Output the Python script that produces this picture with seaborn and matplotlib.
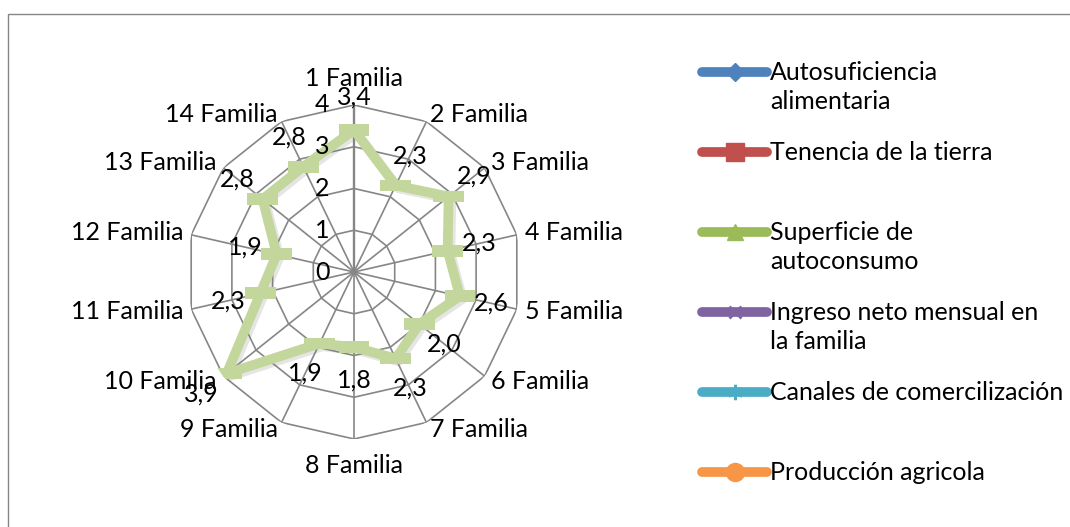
import numpy as np
import matplotlib
matplotlib.use("Agg")
import matplotlib.pyplot as plt
import matplotlib.patheffects as pe
from matplotlib.lines import Line2D
from matplotlib.patches import Rectangle
import seaborn as sns

# --- data ---
familias = ["1 Familia", "2 Familia", "3 Familia", "4 Familia", "5 Familia",
            "6 Familia", "7 Familia", "8 Familia", "9 Familia", "10 Familia",
            "11 Familia", "12 Familia", "13 Familia", "14 Familia"]
superficie = [3.4, 2.3, 2.9, 2.3, 2.6, 2.0, 2.3, 1.8, 1.9, 3.9, 2.3, 1.9, 2.8, 2.8]
anillos = [0, 1, 2, 3, 4]

series = ["Autosuficiencia\nalimentaria", "Tenencia de la tierra",
          "Superficie de\nautoconsumo", "Ingreso neto mensual en\nla familia",
          "Canales de comercilización", "Producción agricola"]
colores = ["#4F81BD", "#C0504D", "#9BBB59", "#8064A2", "#4BACC6", "#F79646"]
marcadores = ["D", "s", "^", "x", (6, 2, 0), "o"]
tam_marc = [9, 13, 11, 9, 11, 13]

sns.set_theme(style="white")
plt.rcParams["font.family"] = ["Lato", "DejaVu Sans"]
FS = 18
GRIS = "#868686"

W, H = 1070, 527
fig = plt.figure(figsize=(W / 100, H / 100), dpi=100)
fig.patch.set_facecolor("white")

# outer chart border (only top/left visible)
fig.add_artist(Rectangle((8 / W, -0.1), 1.2, (1 - 14 / H) + 0.1, fill=False,
                         ec=GRIS, lw=1, transform=fig.transFigure))

cx, cy, rad = 354, 272, 167
ax = fig.add_axes([(cx - rad) / W, 1 - (cy + rad) / H, 2 * rad / W, 2 * rad / H],
                  projection="polar")
ax.set_theta_offset(np.pi / 2)
ax.set_theta_direction(-1)
ax.set_ylim(0, 4)
ax.grid(False)
ax.spines["polar"].set_visible(False)
ax.set_xticks([])
ax.set_yticks([])
ax.patch.set_alpha(0)

n = len(familias)
theta = np.arange(n) * 2 * np.pi / n
theta_c = np.append(theta, 2 * np.pi)

# polygon grid
for k in anillos[1:]:
    ax.plot(theta_c, [k] * (n + 1), color=GRIS, lw=1.2, zorder=1)
for i, t in enumerate(theta):
    ax.plot([t, t], [0, 4], color=GRIS, lw=1.7 if i == 0 else 1.2, zorder=1)

# ring values along first axis
for k in anillos:
    ax.annotate(str(k), (0, k), xytext=(-23, 0), textcoords="offset points",
                ha="center", va="center", fontsize=FS, color="black", zorder=6)

# category labels
for t, name in zip(theta, familias):
    s, c = np.sin(t), np.cos(t)
    ha = "left" if s > 0.05 else ("right" if s < -0.05 else "center")
    if abs(s) < 0.05:
        va = "bottom" if c > 0 else "top"
        r = 4.35
    else:
        va = "center"
        r = 4.2
    ax.text(t, r, name, ha=ha, va=va, fontsize=FS, color="black")

# series line
verts = [(-1.3, -0.5), (1.3, -0.5), (1.3, 0.5), (-1.3, 0.5), (-1.3, -0.5)]
sns.lineplot(x=theta_c, y=superficie + superficie[:1], ax=ax, sort=False,
             estimator=None, color="#C3D69B", lw=7, marker=verts,
             markersize=22, markeredgewidth=0, zorder=3,
             path_effects=[pe.SimpleLineShadow(offset=(2, -2), shadow_color="gray",
                                               alpha=0.2), pe.Normal()])

# data labels
for t, v in zip(theta, superficie):
    ax.text(t, v + 0.78, f"{v:.1f}".replace(".", ","), ha="center", va="center",
            fontsize=FS, color="black", zorder=5)

# legend drawn by hand (Excel-style fixed rows)
x0, x1 = 702 / W, 767 / W
for i, (name, col, mk, ms) in enumerate(zip(series, colores, marcadores, tam_marc)):
    y = 1 - (72 + 80 * i) / H
    fig.add_artist(Line2D([x0, (x0 + x1) / 2, x1], [y, y, y], transform=fig.transFigure,
                          color=col, lw=7, solid_capstyle="round", marker=mk,
                          markevery=[1], markersize=ms, markeredgecolor=col,
                          markeredgewidth=2 if mk in ("x",) or isinstance(mk, tuple) else 1))
    fig.text(770 / W, y + 11 / H, name, ha="left", va="top", fontsize=FS,
             linespacing=1.3, color="black")

fig.savefig("out.png", dpi=100)
